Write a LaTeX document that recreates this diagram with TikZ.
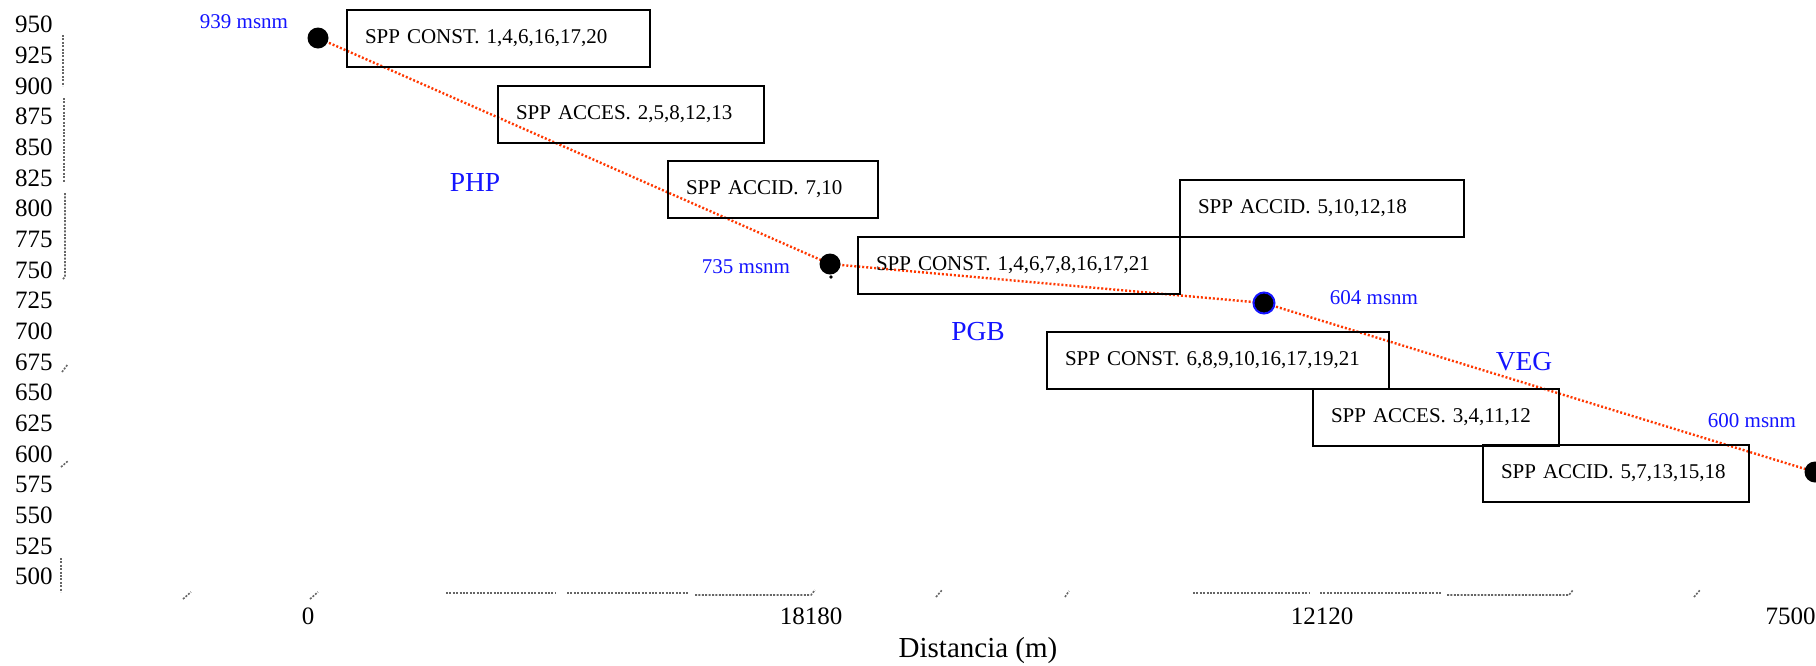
\documentclass[tikz,border=0pt]{standalone}
\usepackage{fontspec}
\setmainfont{Liberation Serif}
\usetikzlibrary{backgrounds}
\definecolor{routeRed}{RGB}{255,56,0}
\definecolor{lblBlue}{RGB}{20,20,255}
\begin{document}
\begin{tikzpicture}[x=0.5pt,y=-0.5pt,
  sppbox/.style={draw=black, line width=1pt, anchor=north west, minimum height=28.5pt,
    inner xsep=9pt, inner ysep=0pt, align=left, font=\fontsize{10.5}{12}\selectfont},
  dotnode/.style={circle, fill=black, inner sep=0pt, minimum size=10.5pt},
  msnm/.style={text=lblBlue, inner sep=0pt, font=\fontsize{10.5}{12}\selectfont},
  zone/.style={text=lblBlue, inner sep=0pt, font=\fontsize{13.75}{15}\selectfont},
  ylab/.style={anchor=east, inner sep=0pt, font=\fontsize{12.5}{14}\selectfont},
  xlab/.style={inner sep=0pt, font=\fontsize{12.5}{14}\selectfont},
  route/.style={draw=routeRed, line width=1.2pt, dash pattern=on 1pt off 1pt},
  axart/.style={draw=gray!80!black, line width=0.8pt, dash pattern=on 1pt off 0.7pt},
]
\clip (0,0) rectangle (1816,665);

% axis labels
\foreach \v [count=\i from 0] in {950,925,...,500}
  \node[ylab] (y\v) at (53,{24.7+\i*30.67}) {\v};
\node[xlab] (x0) at (308,616) {0};
\node[xlab] (x18180) at (811,616) {18180};
\node[xlab] (x12120) at (1322,616) {12120};
\node[xlab, anchor=east] (x7500) at (1816,616) {7500};
\node[inner sep=0pt, font=\fontsize{14.5}{16}\selectfont] (xtitle) at (978,651) {Distancia (m)};

% axis artefacts
\draw[axart] (63,35) -- (63,86);
\draw[axart, line width=1.4pt] (64,98) -- (64,182);
\draw[axart] (65,193) -- (65,277) -- (62,280);
\draw[axart] (62,372) -- (68,364);
\draw[axart] (61,467) -- (68,461);
\draw[axart, line width=1.2pt] (61,558) -- (61,592);
\draw[axart] (183,599) -- (191,592);
\draw[axart] (310,599) -- (318,592);
\draw[axart, line width=1.2pt] (446,593) -- (556,593);
\draw[axart, line width=1.3pt] (567,593) -- (689,593);
\draw[axart] (695,595) -- (811,595) -- (815,590);
\draw[axart] (936,597) -- (942,590);
\draw[axart] (1065,597) -- (1069,591);
\draw[axart, line width=1.2pt] (1193,593) -- (1309,593);
\draw[axart, line width=1.3pt] (1320,593) -- (1442,593);
\draw[axart] (1447,595) -- (1569,595) -- (1573,590);
\draw[axart] (1694,597) -- (1700,590);

% species boxes
\node[sppbox, text width=133.5pt] (b1) at (346,9) {SPP CONST. 1,4,6,16,17,20};
\node[sppbox, text width=115pt] (b2) at (497,85) {SPP ACCES. 2,5,8,12,13};
\node[sppbox, text width=87pt] (b3) at (667,160) {SPP ACCID. 7,10};
\node[sppbox, text width=143pt] (b4) at (857,236) {SPP CONST. 1,4,6,7,8,16,17,21};
\node[sppbox, text width=124pt] (b5) at (1179,179) {SPP ACCID. 5,10,12,18};
\node[sppbox, text width=153pt] (b6) at (1046,331) {SPP CONST. 6,8,9,10,16,17,19,21};
\node[sppbox, text width=105pt] (b7) at (1312,388) {SPP ACCES. 3,4,11,12};
\node[sppbox, text width=115pt] (b8) at (1482,444) {SPP ACCID. 5,7,13,15,18};

% elevation points
\node[dotnode] (d1) at (318,38) {};
\node[dotnode] (d2) at (830,264) {};
\node[dotnode, draw=lblBlue, line width=1pt] (d3) at (1264,303) {};
\node[dotnode] (d4) at (1815,472) {};
\fill (831,277) circle (0.9pt);

\begin{scope}[on background layer]
  \fill[white] (0,0) rectangle (1816,665);
  \draw[route] (d1.center) -- (d2.center) -- (d3.center) -- (d4.center);
\end{scope}

% labels
\node[msnm] (l1) at (244,22) {939 msnm};
\node[msnm] (l2) at (746,267) {735 msnm};
\node[msnm] (l3) at (1374,298) {604 msnm};
\node[msnm] (l4) at (1752,421) {600 msnm};
\node[zone] (zPHP) at (475,182) {PHP};
\node[zone] (zPGB) at (978,332) {PGB};
\node[zone] (zVEG) at (1524,362) {VEG};
\end{tikzpicture}
\end{document}
